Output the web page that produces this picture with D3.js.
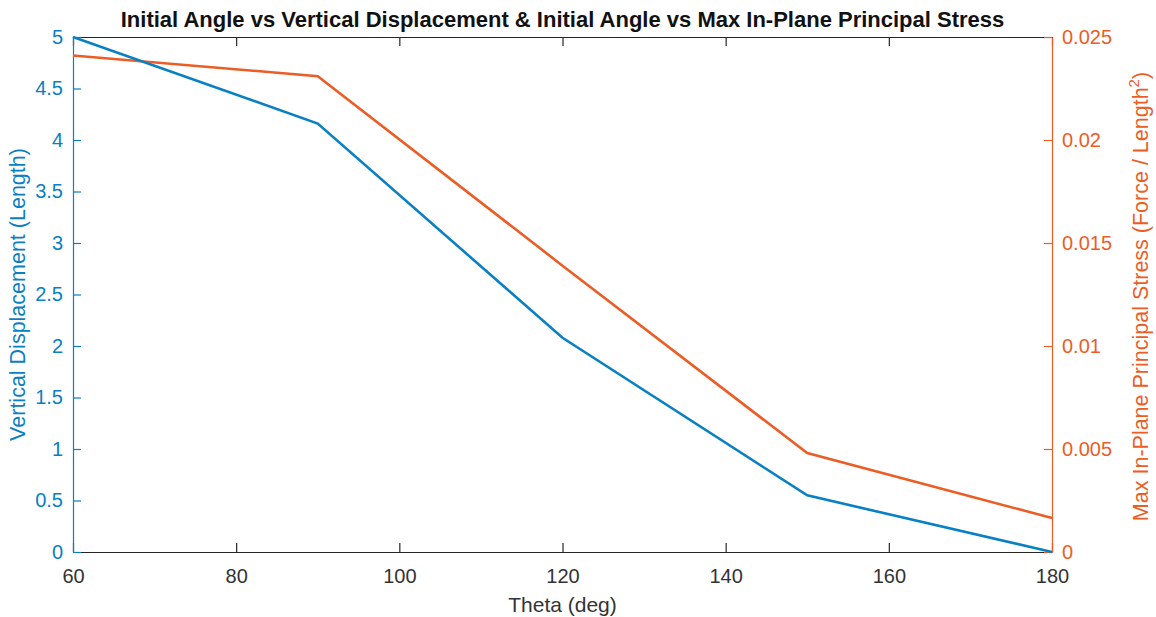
<!DOCTYPE html>
<html>
<head>
<meta charset="utf-8">
<script src="https://cdn.jsdelivr.net/npm/d3@7"></script>
<style>
body { margin: 0; background: #fff; }
text { font-family: "Liberation Sans", Arial, sans-serif; }
</style>
</head>
<body>
<div id="chart-area"></div>
<script>
var theta = [60, 90, 120, 150, 180];
var displacement = [5, 4.16, 2.08, 0.55, 0];
var stress = [0.0241, 0.0231, 0.0139, 0.0048, 0.00165];
var xTicks = [60, 80, 100, 120, 140, 160, 180];
var yLeftTicks = [0, 0.5, 1, 1.5, 2, 2.5, 3, 3.5, 4, 4.5, 5];
var yRightTicks = [0, 0.005, 0.01, 0.015, 0.02, 0.025];

var blue = '#0a80c4';
var orange = '#ec5d26';
var dark = '#262626';

var margin = { top: 37, right: 104, bottom: 65, left: 73 };
var width = 1156 - margin.left - margin.right;
var height = 617 - margin.top - margin.bottom;

var svg = d3.select('#chart-area').append('svg')
	.attr('width', 1156)
	.attr('height', 617);
var g = svg.append('g').attr('transform', `translate(${margin.left}, ${margin.top})`);

var x = d3.scaleLinear().domain([60, 180]).range([0, width]);
var yL = d3.scaleLinear().domain([0, 5]).range([height, 0]);
var yR = d3.scaleLinear().domain([0, 0.025]).range([height, 0]);

function styleAxis(sel, color) {
	sel.selectAll('path').attr('stroke', color).attr('stroke-width', 1.2);
	sel.selectAll('line').attr('stroke', color).attr('stroke-width', 1.2);
	sel.selectAll('text').attr('fill', color).attr('font-size', '20px');
}

// bottom axis
var xAxis = g.append('g').attr('transform', `translate(0, ${height})`)
	.call(d3.axisBottom(x).tickValues(xTicks).tickSize(-9).tickSizeOuter(0).tickPadding(17));
styleAxis(xAxis, dark);
xAxis.selectAll('text').attr('fill', '#333');

// top axis (box)
var xTop = g.append('g')
	.call(d3.axisTop(x).tickValues(xTicks).tickSize(-9).tickSizeOuter(0).tickFormat(''));
styleAxis(xTop, dark);

// left axis
var yAxisL = g.append('g')
	.call(d3.axisLeft(yL).tickValues(yLeftTicks).tickSize(-8).tickSizeOuter(0).tickPadding(10).tickFormat(d3.format('')));
styleAxis(yAxisL, blue);

// right axis
var yAxisR = g.append('g').attr('transform', `translate(${width}, 0)`)
	.call(d3.axisRight(yR).tickValues(yRightTicks).tickSize(-8).tickSizeOuter(0).tickPadding(10).tickFormat(d3.format('')));
styleAxis(yAxisR, orange);

// lines
var lineL = d3.line().x((d, i) => x(theta[i])).y(d => yL(d));
var lineR = d3.line().x((d, i) => x(theta[i])).y(d => yR(d));

g.append('path').datum(stress)
	.attr('d', lineR).attr('fill', 'none')
	.attr('stroke', orange).attr('stroke-width', 2.6);
g.append('path').datum(displacement)
	.attr('d', lineL).attr('fill', 'none')
	.attr('stroke', blue).attr('stroke-width', 2.6);

// title
svg.append('text')
	.attr('x', margin.left + width / 2)
	.attr('y', 27)
	.attr('text-anchor', 'middle')
	.attr('font-size', '22px')
	.attr('font-weight', 'bold')
	.attr('fill', '#111')
	.text('Initial Angle vs Vertical Displacement & Initial Angle vs Max In-Plane Principal Stress');

// x label
svg.append('text')
	.attr('x', margin.left + width / 2)
	.attr('y', 612)
	.attr('text-anchor', 'middle')
	.attr('font-size', '21px')
	.attr('fill', '#333')
	.text('Theta (deg)');

// left y label
svg.append('text')
	.attr('transform', `translate(25, ${margin.top + height / 2}) rotate(-90)`)
	.attr('text-anchor', 'middle')
	.attr('font-size', '21.5px')
	.attr('fill', blue)
	.text('Vertical Displacement (Length)');

// right y label
var rl = svg.append('text')
	.attr('transform', `translate(1148, ${margin.top + height / 2 + 2}) rotate(-90)`)
	.attr('text-anchor', 'middle')
	.attr('font-size', '21.5px')
	.attr('fill', orange);
rl.append('tspan').text('Max In-Plane Principal Stress (Force / Length');
rl.append('tspan').attr('dy', '-9').attr('font-size', '15px').text('2');
rl.append('tspan').attr('dy', '9').text(')');
</script>
</body>
</html>
